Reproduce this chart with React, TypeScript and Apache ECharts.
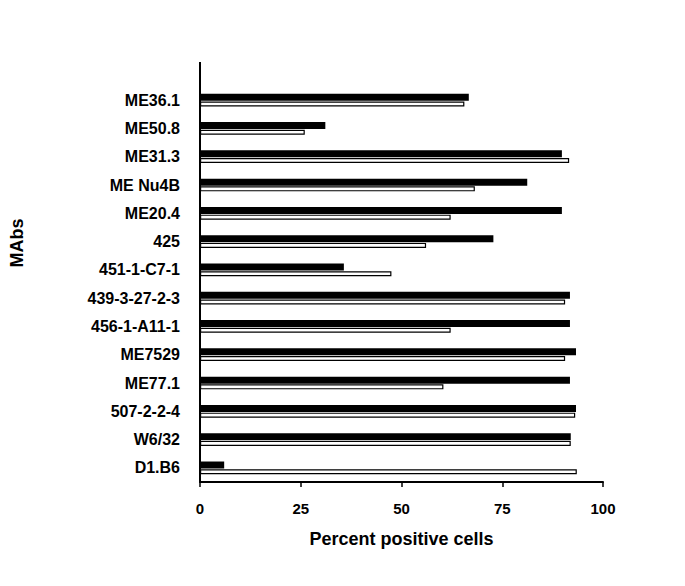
import React, { useEffect, useRef } from "react";
import * as echarts from "echarts";

const categories = [
  "ME36.1",
  "ME50.8",
  "ME31.3",
  "ME Nu4B",
  "ME20.4",
  "425",
  "451-1-C7-1",
  "439-3-27-2-3",
  "456-1-A11-1",
  "ME7529",
  "ME77.1",
  "507-2-2-4",
  "W6/32",
  "D1.B6",
];
const blackValues = [66.7, 31.1, 89.8, 81.2, 89.8, 72.8, 35.7, 91.8, 91.8, 93.3, 91.8, 93.3, 92.0, 6.0];
const whiteValues = [65.6, 26.0, 91.6, 68.2, 62.2, 56.1, 47.5, 90.6, 62.2, 90.6, 60.4, 93.1, 92.0, 93.5];
const xTicks = [0, 25, 50, 75, 100];

const FONT = "'Liberation Sans', Arial, sans-serif";

export default function App() {
  const ref = useRef<HTMLDivElement>(null);
  useEffect(() => {
    if (!ref.current) return;
    const chart = echarts.init(ref.current, undefined, { renderer: "svg" });
    chart.setOption({
      animation: false,
      backgroundColor: "#ffffff",
      grid: { left: 200, top: 86, width: 403, height: 396, containLabel: false },
      xAxis: {
        type: "value",
        min: xTicks[0],
        max: xTicks[xTicks.length - 1],
        interval: 25,
        splitLine: { show: false },
        axisLine: { show: true, lineStyle: { color: "#000", width: 2 } },
        axisTick: { show: true, length: 5, lineStyle: { color: "#000", width: 1.5 } },
        axisLabel: {
          color: "#000",
          fontSize: 15,
          fontWeight: "bold",
          fontFamily: FONT,
          margin: 19,
        },
        name: "Percent positive cells",
        nameLocation: "middle",
        nameGap: 48,
        nameTextStyle: { color: "#000", fontSize: 18, fontWeight: "bold", fontFamily: FONT },
      },
      yAxis: {
        type: "category",
        data: categories,
        inverse: true,
        axisLine: { show: true, lineStyle: { color: "#000", width: 2 } },
        axisTick: { show: false },
        splitLine: { show: false },
        axisLabel: {
          color: "#000",
          fontSize: 16,
          fontWeight: "bold",
          fontFamily: FONT,
          margin: 20,
        },
      },
      graphic: [
        {
          type: "line",
          shape: { x1: 200, y1: 62, x2: 200, y2: 87 },
          style: { stroke: "#000", lineWidth: 2 },
        },
        {
          type: "text",
          x: 17,
          y: 243,
          rotation: Math.PI / 2,
          style: {
            text: "MAbs",
            fill: "#000",
            fontSize: 18,
            fontWeight: "bold",
            fontFamily: FONT,
            align: "center",
            verticalAlign: "middle",
          },
        },
      ],
      series: [
        {
          type: "bar",
          data: blackValues,
          barWidth: 7,
          barGap: "0%",
          itemStyle: { color: "#000" },
        },
        {
          type: "bar",
          data: whiteValues,
          barWidth: 5,
          barGap: "10%",
          itemStyle: { color: "#fff", borderColor: "#000", borderWidth: 1.2 },
        },
      ],
    });
    return () => chart.dispose();
  }, []);
  return (
    <div
      ref={ref}
      style={{ position: "fixed", left: 0, top: 0, width: 685, height: 586 }}
    />
  );
}
